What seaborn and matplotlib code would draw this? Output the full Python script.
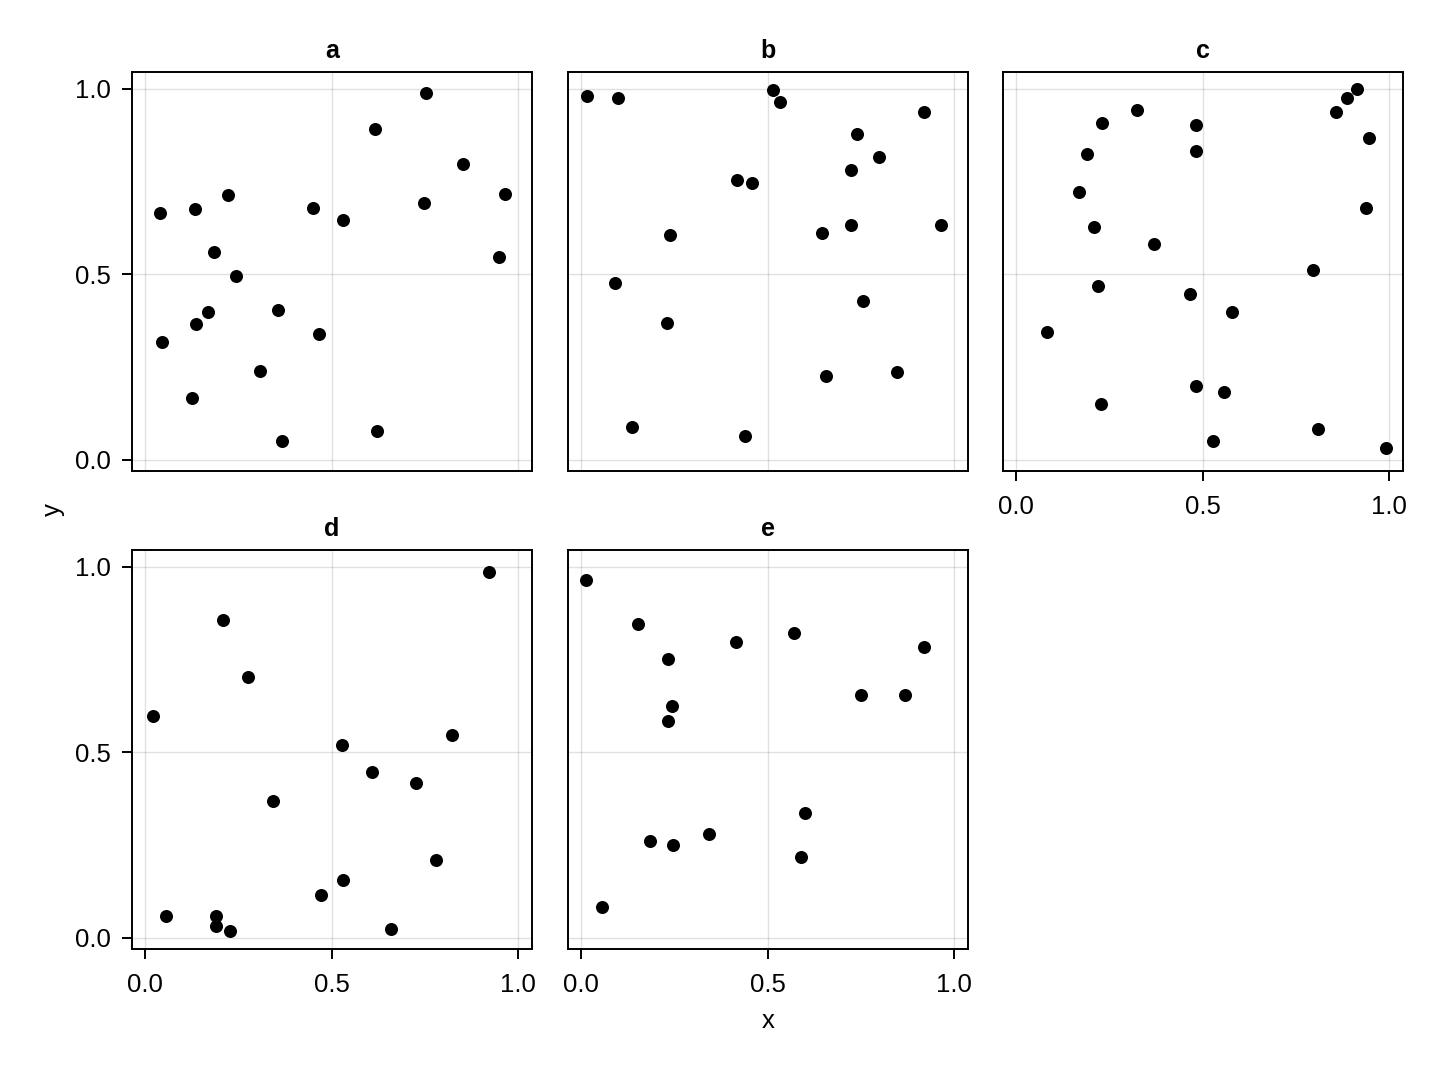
import pandas as pd
import seaborn as sns
import matplotlib.pyplot as plt

# dati
panels = ['a', 'b', 'c', 'd', 'e']

a_x = [0.752, 0.617, 0.852, 0.964, 0.747, 0.221, 0.133, 0.038, 0.449, 0.531, 0.183,
       0.949, 0.244, 0.168, 0.137, 0.355, 0.465, 0.044, 0.307, 0.126, 0.621, 0.367]
a_y = [0.988, 0.892, 0.796, 0.715, 0.691, 0.714, 0.676, 0.664, 0.679, 0.645, 0.560,
       0.547, 0.495, 0.397, 0.366, 0.403, 0.339, 0.316, 0.238, 0.167, 0.078, 0.049]

b_x = [0.014, 0.098, 0.515, 0.533, 0.920, 0.738, 0.799, 0.722, 0.417, 0.457, 0.238,
       0.646, 0.722, 0.965, 0.090, 0.755, 0.229, 0.657, 0.847, 0.135, 0.439]
b_y = [0.980, 0.976, 0.996, 0.964, 0.937, 0.877, 0.817, 0.780, 0.754, 0.747, 0.605,
       0.612, 0.633, 0.632, 0.477, 0.428, 0.367, 0.226, 0.237, 0.089, 0.064]

c_x = [0.913, 0.888, 0.856, 0.945, 0.324, 0.229, 0.481, 0.189, 0.481, 0.168, 0.939, 0.209,
       0.370, 0.795, 0.219, 0.466, 0.577, 0.081, 0.483, 0.557, 0.226, 0.810, 0.527, 0.991]
c_y = [0.998, 0.974, 0.938, 0.866, 0.943, 0.908, 0.902, 0.824, 0.831, 0.721, 0.679, 0.626,
       0.580, 0.511, 0.468, 0.445, 0.399, 0.344, 0.198, 0.181, 0.151, 0.082, 0.049, 0.031]

d_x = [0.921, 0.209, 0.275, 0.019, 0.822, 0.528, 0.608, 0.726, 0.341, 0.779, 0.529,
       0.472, 0.054, 0.189, 0.188, 0.228, 0.659]
d_y = [0.987, 0.857, 0.703, 0.596, 0.545, 0.520, 0.447, 0.418, 0.369, 0.210, 0.154,
       0.114, 0.059, 0.059, 0.031, 0.018, 0.022]

e_x = [0.013, 0.151, 0.233, 0.416, 0.569, 0.920, 0.242, 0.233, 0.751, 0.867, 0.601,
       0.590, 0.184, 0.246, 0.342, 0.056]
e_y = [0.964, 0.846, 0.751, 0.797, 0.820, 0.784, 0.625, 0.583, 0.654, 0.654, 0.336,
       0.217, 0.261, 0.250, 0.280, 0.081]

ticks = [0.0, 0.5, 1.0]

frames = []
for name, xs, ys in zip(panels, [a_x, b_x, c_x, d_x, e_x], [a_y, b_y, c_y, d_y, e_y]):
    frames.append(pd.DataFrame({'x': xs, 'y': ys, 'panel': name}))
df = pd.concat(frames, ignore_index=True)

# stile
sns.set_theme(style="white")
plt.rcParams['font.family'] = ['Liberation Sans', 'DejaVu Sans']
plt.rcParams['axes.edgecolor'] = 'black'
plt.rcParams['axes.linewidth'] = 1.4
plt.rcParams['text.color'] = 'black'
plt.rcParams['axes.labelcolor'] = 'black'
plt.rcParams['xtick.color'] = 'black'
plt.rcParams['ytick.color'] = 'black'

g = sns.relplot(data=df, x='x', y='y', col='panel', col_wrap=3, kind='scatter',
                color='black', s=88, linewidth=0, height=4, aspect=1,
                facet_kws={'despine': False})

fig = g.figure
fig.set_size_inches(14.36, 10.66)

g.set_titles('{col_name}', fontweight='bold', size=18, pad=10, color='black')
g.set_axis_labels('', '')
g.set(xlim=(-0.036, 1.037), ylim=(-0.031, 1.045), xticks=ticks, yticks=ticks)

W, H = 1436, 1066
lefts = [132, 568, 1003]
tops = [72, 550]
for i, ax in enumerate(g.axes.flat):
    r, c = divmod(i, 3)
    ax.set_position([lefts[c] / W, 1 - (tops[r] + 399) / H, 400 / W, 399 / H])
    ax.grid(True, color='black', alpha=0.12, linewidth=1.0)
    ax.set_axisbelow(True)
    ax.tick_params(labelsize=18.5, length=7, width=1.4, colors='black',
                   direction='out')
    # tacche solo dove ci sono le etichette
    ax.tick_params(axis='x', bottom=(i >= 2), pad=10)
    ax.tick_params(axis='y', left=(c == 0), pad=8)
    for s in ax.spines.values():
        s.set_color('black')
        s.set_linewidth(1.4)

fig.text(768 / W, 1 - 1028 / H, 'x', ha='center', va='baseline', fontsize=18.5)
fig.text(53 / W, 1 - 510 / H, 'y', ha='center', va='center', rotation=90, fontsize=18.5)

plt.savefig('out.png', dpi=100)
